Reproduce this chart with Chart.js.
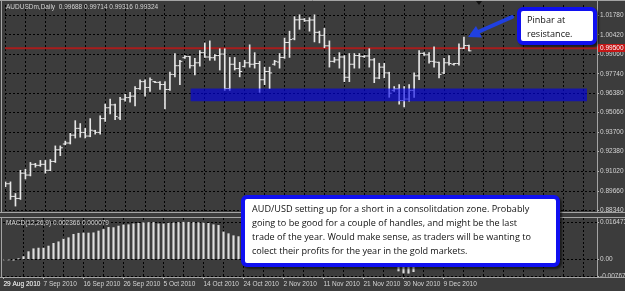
<!DOCTYPE html>
<html>
<head>
<meta charset="utf-8">
<script src="https://cdn.jsdelivr.net/npm/chart.js@4.4.0/dist/chart.umd.min.js"></script>
<style>
html, body { margin: 0; padding: 0; background: #3c3c3c; }
#wrap { position: relative; width: 625px; height: 291px; overflow: hidden; background: #3c3c3c; font-family: "Liberation Sans", Arial, sans-serif; }
#wrap canvas { position: absolute; left: 0; }
#main { top: 0; }
#macd { top: 217px; }
.lbl { position: absolute; color: #d4d4d4; font-size: 6.5px; line-height: 8px; white-space: nowrap; }
.note { position: absolute; box-sizing: border-box; background: #fff; border: 4px solid #1010f0; border-radius: 6px;
        box-shadow: 2px 2px 2px rgba(0,0,0,0.55); font-family: "Open Sans", sans-serif; font-size: 9.1px;
        line-height: 14px; color: #111; white-space: nowrap; }
#shift { position: absolute; left: 476px; top: 1px; width: 0; height: 0; border-left: 3px solid transparent;
         border-right: 3px solid transparent; border-top: 4px solid #111; }
</style>
</head>
<body>
<div id="wrap">
  <canvas id="main" width="625" height="217"></canvas>
  <canvas id="macd" width="625" height="74"></canvas>
  <div class="lbl" style="left:6px;top:3px;">AUDUSDm,Daily&nbsp; 0.99688 0.99714 0.99316 0.99324</div>
  <div class="lbl" style="left:6px;top:219px;">MACD(12,26,9) 0.002366 0.000079</div>
  <div id="shift"></div>
  <div class="note" style="left:241px;top:195px;width:319px;height:72px;padding:3px 0 0 7px;">AUD/USD setting up for a short in a consolitdation zone. Probably<br>going to be good for a couple of handles, and might be the last<br>trade of the year. Would make sense, as traders will be wanting to<br>colect their profits for the year in the gold markets.</div>
  <div class="note" style="left:517px;top:7px;width:80px;height:38px;padding:2px 0 0 6px;">Pinbar at<br>resistance.</div>
  <svg width="625" height="291" style="position:absolute;left:0;top:0;pointer-events:none">
    <line x1="512" y1="17" x2="478" y2="32" stroke="#2040e0" stroke-width="4" stroke-linecap="round"/>
    <polygon points="468,37 476,26 482,37.5" fill="#2040e0"/>
  </svg>
</div>
<script>
'use strict';

// daily bars, 29 Aug 2010 .. 15 Dec 2010 (Sunday bars included)
var opens = [0.9009,0.9016,0.8929,0.8915,0.9089,0.9076,0.9150,0.9143,0.9150,0.9109,
  0.9170,0.9250,0.9290,0.9297,0.9351,0.9398,0.9370,0.9345,0.9380,0.9370,
  0.9465,0.9540,0.9560,0.9470,0.9599,0.9610,0.9620,0.9672,0.9720,0.9680,
  0.9720,0.9715,0.9700,0.9666,0.9770,0.9830,0.9885,0.9893,0.9830,0.9850,
  0.9920,0.9890,0.9885,0.9900,0.9910,0.9672,0.9840,0.9810,0.9825,0.9850,
  0.9840,0.9845,0.9733,0.9790,0.9840,0.9855,0.9887,0.9990,1.0015,1.0146,
  1.0150,1.0140,1.0145,1.0060,1.0040,0.9967,0.9860,0.9870,0.9890,0.9750,
  0.9840,0.9900,0.9893,0.9897,0.9870,0.9745,0.9820,0.9780,0.9660,0.9670,
  0.9590,0.9600,0.9660,0.9760,0.9915,0.9905,0.9860,0.9853,0.9780,0.9850,
  0.9840,0.9845,0.9950,0.99688];
var highs = [0.9029,0.9029,0.8949,0.9109,0.9116,0.9163,0.9157,0.9177,0.9177,0.9183,
  0.9277,0.9277,0.9310,0.9364,0.9451,0.9431,0.9398,0.9465,0.9385,0.9485,
  0.9565,0.9599,0.9565,0.9612,0.9632,0.9646,0.9686,0.9733,0.9733,0.9746,
  0.9722,0.9720,0.9720,0.9786,0.9914,0.9867,0.9900,0.9895,0.9880,0.9934,
  0.9987,1.0001,0.9907,0.9947,0.9947,0.9887,0.9887,0.9853,0.9867,0.9974,
  0.9920,0.9860,0.9820,0.9820,0.9867,0.9914,1.0021,1.0068,1.0168,1.0181,
  1.0155,1.0161,1.0181,1.0068,1.0088,1.0001,0.9887,0.9920,0.9900,0.9914,
  0.9914,0.9914,0.9900,0.9947,0.9880,0.9847,0.9847,0.9785,0.9686,0.9699,
  0.9686,0.9699,0.9780,0.9934,0.9920,0.9920,0.9960,0.9855,0.9880,0.9900,
  0.9847,0.9980,1.0027,0.99714];
var lows = [0.8996,0.8908,0.8862,0.8908,0.9049,0.9070,0.9130,0.9136,0.9089,0.9105,
  0.9163,0.9210,0.9284,0.9290,0.9331,0.9337,0.9331,0.9340,0.9358,0.9358,
  0.9445,0.9498,0.9458,0.9458,0.9585,0.9579,0.9552,0.9666,0.9619,0.9652,
  0.9713,0.9666,0.9532,0.9660,0.9753,0.9699,0.9880,0.9813,0.9766,0.9826,
  0.9887,0.9867,0.9867,0.9800,0.9659,0.9659,0.9800,0.9753,0.9820,0.9820,
  0.9813,0.9646,0.9699,0.9672,0.9833,0.9813,0.9880,0.9887,1.0008,1.0081,
  1.0135,1.0068,0.9994,0.9987,0.9954,0.9820,0.9853,0.9813,0.9720,0.9720,
  0.9813,0.9813,0.9887,0.9820,0.9713,0.9740,0.9746,0.9612,0.9652,0.9565,
  0.9545,0.9585,0.9612,0.9733,0.9900,0.9847,0.9820,0.9746,0.9775,0.9833,
  0.9833,0.9833,0.9947,0.99316];
var closes = [0.9016,0.8929,0.8915,0.9089,0.9076,0.9150,0.9143,0.9150,0.9109,0.9170,
  0.9250,0.9264,0.9297,0.9351,0.9398,0.9370,0.9345,0.9385,0.9370,0.9465,
  0.9540,0.9560,0.9480,0.9599,0.9610,0.9620,0.9672,0.9720,0.9680,0.9733,
  0.9715,0.9700,0.9666,0.9770,0.9830,0.9860,0.9893,0.9830,0.9850,0.9920,
  0.9890,0.9885,0.9900,0.9910,0.9672,0.9840,0.9810,0.9790,0.9850,0.9840,
  0.9845,0.9733,0.9790,0.9780,0.9860,0.9887,0.9990,1.0010,1.0146,1.0150,
  1.0140,1.0145,1.0060,1.0040,0.9967,0.9860,0.9870,0.9890,0.9750,0.9840,
  0.9900,0.9895,0.9897,0.9870,0.9745,0.9820,0.9780,0.9640,0.9670,0.9590,
  0.9600,0.9660,0.9760,0.9915,0.9905,0.9860,0.9855,0.9770,0.9850,0.9845,
  0.9845,0.9950,0.9969,0.99324];
var macd = [-0.0002,-0.0003,-0.0004,0.0003,0.0012,0.0034,0.0047,0.0050,0.0050,0.0059,
  0.0071,0.0078,0.0090,0.0096,0.0111,0.0116,0.0117,0.0117,0.0118,0.0126,
  0.0133,0.0142,0.0141,0.0148,0.0153,0.0154,0.0158,0.0160,0.0163,0.0164,
  0.0164,0.0158,0.0158,0.0161,0.0162,0.0164,0.0165,0.016473,0.0164,0.0163,
  0.0162,0.0160,0.0154,0.0151,0.0122,0.0114,0.0105,0.0101,0.0098,0.0095,
  0.0090,0.0080,0.0072,0.0066,0.0064,0.0065,0.0074,0.0082,0.0095,0.0106,
  0.0110,0.0113,0.0105,0.0097,0.0086,0.0070,0.0060,0.0053,0.0040,0.0033,
  0.0030,0.0028,0.0026,0.0024,0.0012,0.0005,-0.0004,-0.0020,-0.0032,-0.0052,
  -0.0061,-0.0062,-0.0055,-0.0030,-0.0028,-0.0020,-0.0012,-0.0012,-0.0006,0.0001,
  0.0004,0.0013,0.0020,0.002366];

var dateLabels = ['29 Aug 2010','7 Sep 2010','16 Sep 2010','26 Sep 2010','5 Oct 2010','14 Oct 2010',
  '24 Oct 2010','2 Nov 2010','11 Nov 2010','21 Nov 2010','30 Nov 2010','9 Dec 2010'];
var priceTicks = [1.0178,1.0042,0.9906,0.9774,0.9638,0.9506,0.9370,0.9238,0.9102,0.8966,0.8834];
var macdTicks = [0.016473, 0, -0.00767];
var macdTickLabels = ['0.016473', '0.00', '-0.00767'];

var resistance = 0.9950;          // red horizontal line
var zone = [0.9672, 0.9585];      // blue consolidation box, top / bottom
var zoneBars = [37.1, 116.7];     // box start / end, in bar units

var xMin = -0.1, xMax = 118.7;
var priceMin = 0.88213, priceMax = 1.02484;
var macdMin = -0.00788, macdMax = 0.01838;

Chart.defaults.font.family = '"Liberation Sans", Arial, sans-serif';

var barColor = '#e6e6e6';
var tickFont = { size: 6.5 };

var gridTicks = function(scale) {
    var t = [];
    for (var i = 0; i <= 116; i += 4) t.push({ value: i });
    scale.ticks = t;
};
var fitRight = function(scale) {
    scale.width = 28;
    scale.paddingTop = 0;
    scale.paddingBottom = 0;
};
var frame = {
    id: 'frame',
    afterDraw: function(chart) {
        var c = chart.ctx, a = chart.chartArea;
        c.save();
        c.strokeStyle = '#a4a4a4';
        c.lineWidth = 1;
        c.beginPath();
        c.moveTo(0, 0.5); c.lineTo(chart.width, 0.5);
        c.moveTo(0, a.bottom + 0.5); c.lineTo(chart.width, a.bottom + 0.5);
        c.moveTo(1.5, 0); c.lineTo(1.5, a.bottom + 1);
        c.moveTo(a.right + 0.5, 0); c.lineTo(a.right + 0.5, a.bottom + 1);
        c.stroke();
        c.restore();
    }
};
var redLabel = {
    id: 'redLabel',
    afterDraw: function(chart) {
        var c = chart.ctx, a = chart.chartArea;
        var y = chart.scales.y.getPixelForValue(resistance);
        c.save();
        c.fillStyle = '#c41616';
        c.fillRect(a.right + 1, Math.round(y) - 4, chart.width - a.right - 1, 8);
        c.fillStyle = '#ffffff';
        c.font = '6.5px "Liberation Sans", Arial';
        c.textBaseline = 'middle';
        c.fillText(resistance.toFixed(5), a.right + 3, y);
        c.restore();
    }
};

var hl = [], op = [], cl = [], hist = [];
for (var i = 0; i < highs.length; i++) {
    hl.push({ x: i, y: [lows[i], highs[i]] });
    op.push({ x: i - 0.25, y: opens[i] });
    cl.push({ x: i + 0.25, y: closes[i] });
    hist.push({ x: i, y: macd[i] });
}

var priceChart = new Chart(document.getElementById('main'), {
    type: 'bar',
    data: {
        datasets: [
            {
                type: 'line', data: [{ x: zoneBars[0], y: zone[0] }, { x: zoneBars[1], y: zone[0] }],
                borderColor: 'rgba(0,0,0,0)', borderWidth: 0, pointRadius: 0,
                fill: '+1', backgroundColor: 'rgba(0,0,235,0.62)', order: -1
            },
            {
                type: 'line', data: [{ x: zoneBars[0], y: zone[1] }, { x: zoneBars[1], y: zone[1] }],
                borderColor: 'rgba(0,0,0,0)', borderWidth: 0, pointRadius: 0, fill: false, order: -1
            },
            {
                type: 'bar', data: hl, backgroundColor: barColor, borderWidth: 0,
                barThickness: 1, order: 1
            },
            {
                type: 'line', data: op, showLine: false, pointStyle: 'line', pointRadius: 1.25,
                pointBorderWidth: 1, pointBorderColor: barColor, borderColor: barColor, order: 1
            },
            {
                type: 'line', data: cl, showLine: false, pointStyle: 'line', pointRadius: 1.25,
                pointBorderWidth: 1, pointBorderColor: barColor, borderColor: barColor, order: 1
            },
            {
                type: 'line', data: [{ x: xMin, y: resistance }, { x: xMax, y: resistance }],
                borderColor: '#a81c1c', borderWidth: 2, pointRadius: 0, fill: false, order: 5
            }
        ]
    },
    options: {
        responsive: false,
        animation: false,
        events: [],
        layout: { padding: { left: 3, top: 3, right: 0, bottom: 1 } },
        plugins: { legend: { display: false }, tooltip: { enabled: false } },
        scales: {
            x: {
                type: 'linear', min: xMin, max: xMax, offset: false,
                afterBuildTicks: gridTicks,
                ticks: { display: false },
                grid: { color: '#000', drawTicks: false, offset: false },
                border: { display: false, dash: [2, 2] }
            },
            y: {
                position: 'right', min: priceMin, max: priceMax,
                afterBuildTicks: function(scale) {
                    scale.ticks = priceTicks.map(function(v) { return { value: v }; });
                },
                afterFit: fitRight,
                ticks: {
                    color: '#d4d4d4', font: tickFont, padding: 1, autoSkip: false,
                    callback: function(v) { return v.toFixed(5); }
                },
                grid: { color: '#000', tickLength: 2, tickColor: '#b4b4b4' },
                border: { display: false, dash: [2, 2] }
            }
        }
    },
    plugins: [frame, redLabel]
});

var macdChart = new Chart(document.getElementById('macd'), {
    type: 'bar',
    data: {
        datasets: [
            { data: hist, backgroundColor: '#dedede', borderWidth: 0, barThickness: 1.5 }
        ]
    },
    options: {
        responsive: false,
        animation: false,
        events: [],
        layout: { padding: { left: 3, top: 1, right: 0, bottom: 0 } },
        plugins: { legend: { display: false }, tooltip: { enabled: false } },
        scales: {
            x: {
                type: 'linear', min: xMin, max: xMax, offset: false,
                afterBuildTicks: function(scale) {
                    gridTicks(scale);
                    scale.ticks.unshift({ value: 0 });
                },
                afterFit: function(scale) {
                    scale.height = 14;
                    scale.paddingLeft = 0;
                    scale.paddingRight = 0;
                },
                ticks: {
                    color: '#d4d4d4', font: tickFont, padding: 1, align: 'start',
                    maxRotation: 0, autoSkip: false,
                    callback: function(v) {
                        var k = v / 8;
                        return (v % 8 === 0 && k < dateLabels.length) ? dateLabels[k] : '';
                    }
                },
                grid: {
                    offset: false, tickLength: 2,
                    color: function(ctx) { return ctx.tick && ctx.tick.value === 0 ? 'rgba(0,0,0,0)' : '#000'; },
                    tickColor: function(ctx) {
                        var v = ctx.tick ? ctx.tick.value : 1;
                        return (v % 8 === 0 && v / 8 < dateLabels.length) ? '#b4b4b4' : 'rgba(0,0,0,0)';
                    }
                },
                border: { display: false, dash: [2, 2] }
            },
            y: {
                position: 'right', min: macdMin, max: macdMax,
                afterBuildTicks: function(scale) {
                    scale.ticks = macdTicks.map(function(v) { return { value: v }; });
                },
                afterFit: fitRight,
                ticks: {
                    color: '#d4d4d4', font: tickFont, padding: 1, autoSkip: false,
                    callback: function(v) { return macdTickLabels[macdTicks.indexOf(v)]; }
                },
                grid: { color: '#000', tickLength: 2, tickColor: '#b4b4b4' },
                border: { display: false, dash: [2, 2] }
            }
        }
    },
    plugins: [frame]
});
</script>
</body>
</html>
